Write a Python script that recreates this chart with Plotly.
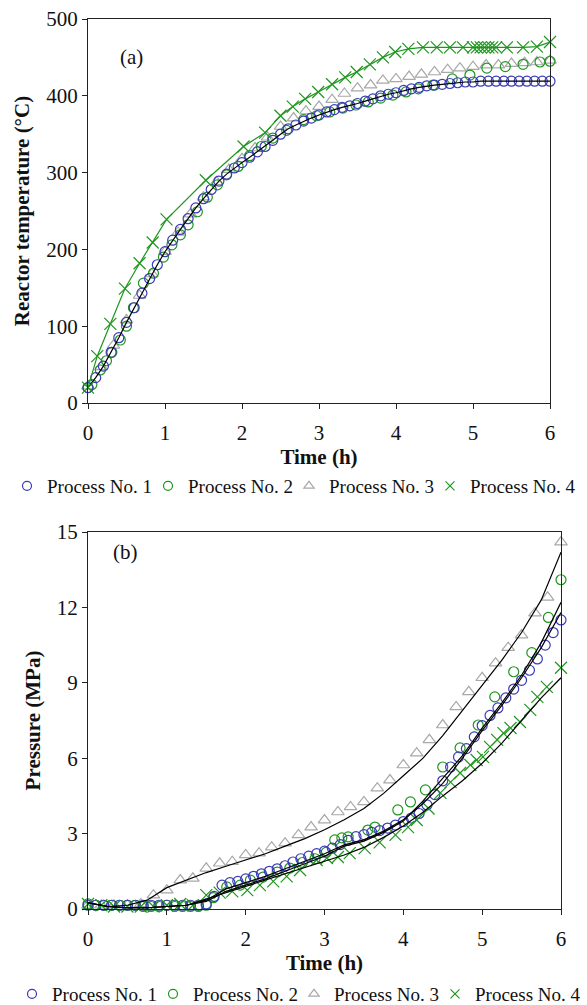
import plotly.graph_objects as go

# ---------------- Panel (a): reactor temperature (°C) ----------------
TIME_A1 = [0.0, 0.1, 0.2, 0.3, 0.4, 0.5, 0.6, 0.7, 0.8, 0.9, 1.0, 1.1, 1.2, 1.3, 1.4, 1.5,
           1.6, 1.7, 1.8, 1.9, 2.0, 2.1, 2.2, 2.3, 2.4, 2.5, 2.6, 2.7, 2.8, 2.9, 3.0, 3.1,
           3.2, 3.3, 3.4, 3.5, 3.6, 3.7, 3.8, 3.9, 4.0, 4.1, 4.2, 4.3, 4.4, 4.5, 4.6, 4.7,
           4.8, 4.9, 5.0, 5.1, 5.2, 5.3, 5.4, 5.5, 5.6, 5.7, 5.8, 5.9, 6.0]
TEMP_A1 = [20, 33, 48, 66, 85, 105, 124, 143, 162, 180, 197, 212, 226, 240, 254, 266,
           278, 289, 298, 306, 313, 320, 327, 334, 342, 350, 357, 362, 367, 371, 375, 379,
           382, 385, 387, 390, 393, 396, 400, 402, 404, 407, 409, 411, 413, 414, 415, 416,
           417, 418, 418, 419, 419, 419, 419, 419, 419, 419, 419, 419, 419]

TIME_A2 = [0.0, 0.05, 0.16, 0.24, 0.31, 0.42, 0.5, 0.59, 0.72, 0.85, 0.98, 1.09, 1.2, 1.3,
           1.42, 1.55, 1.68, 1.8, 1.95, 2.1, 2.25, 2.4, 2.58, 2.8, 2.97, 3.14, 3.31, 3.48,
           3.64, 3.8, 3.96, 4.13, 4.29, 4.48, 4.73, 4.96, 5.18, 5.42, 5.65, 5.87, 6.0]
TEMP_A2 = [20, 24, 43, 55, 66, 82, 100, 124, 156, 169, 190, 206, 219, 232,
           249, 268, 284, 297, 308, 322, 334, 345, 355, 369, 374, 379, 384, 388,
           392, 397, 401, 405, 409, 414, 422, 427, 436, 438, 441, 444, 445]

TIME_A3 = [0.0, 0.17, 0.33, 0.5, 0.67, 0.83, 1.0, 1.17, 1.33, 1.5, 1.67, 1.83, 2.0, 2.17,
           2.33, 2.5, 2.67, 2.83, 3.0, 3.17, 3.33, 3.5, 3.67, 3.83, 4.0, 4.17, 4.33, 4.5,
           4.67, 4.83, 5.0, 5.17, 5.33, 5.5, 5.67, 5.83, 6.0]
TEMP_A3 = [22, 47, 75, 108, 140, 168, 197, 222, 246, 268, 288, 304, 318, 332,
           346, 360, 371, 380, 386, 395, 403, 410, 414, 420, 422, 425, 428, 431,
           434, 436, 438, 440, 440, 442, 443, 444, 446]

TIME_A4 = [0.0, 0.12, 0.29, 0.48, 0.67, 0.84, 1.02, 1.53, 2.02, 2.3, 2.5, 2.66, 2.82, 2.99,
           3.17, 3.34, 3.49, 3.66, 3.83, 3.99, 4.16, 4.35, 4.53, 4.70, 4.87, 5.0, 5.05,
           5.1, 5.15, 5.2, 5.25, 5.3, 5.44, 5.65, 5.83, 6.0]
TEMP_A4 = [20, 61, 103, 149, 182, 209, 239, 290, 334, 352, 374, 386, 396, 405,
           415, 424, 431, 441, 450, 457, 461, 463, 463, 463, 463, 463, 463,
           463, 463, 463, 463, 463, 463, 463, 464, 470]

# ---------------- Panel (b): pressure (MPa) ----------------
TIME_B1 = TIME_A1
PRES_B1 = [0.15, 0.15, 0.15, 0.15, 0.15, 0.15, 0.15, 0.15, 0.15, 0.15, 0.15, 0.15, 0.15,
           0.15, 0.15, 0.2, 0.5, 0.95, 1.05, 1.1, 1.2, 1.3, 1.4, 1.5, 1.6, 1.72, 1.87, 2.0,
           2.1, 2.2, 2.3, 2.42, 2.56, 2.73, 2.88, 2.96, 3.05, 3.12, 3.22, 3.34, 3.48, 3.62,
           3.8, 4.14, 4.55, 5.1, 5.65, 6.05, 6.38, 6.85, 7.3, 7.7, 8.0, 8.4, 8.75, 9.1, 9.5,
           9.95, 10.5, 11.0, 11.5]

TIME_B2 = [0.0, 0.1, 0.2, 0.3, 0.4, 0.5, 0.6, 0.7, 0.8, 0.9, 1.0, 1.1, 1.2, 1.3, 1.4, 1.5,
           1.59, 1.76, 1.93, 2.06, 2.22, 2.4, 2.56, 2.72, 2.88, 3.02, 3.13, 3.22, 3.3, 3.55,
           3.64, 3.93, 4.09, 4.28, 4.5, 4.72, 4.95, 5.16, 5.4, 5.63, 5.84, 6.0]
PRES_B2 = [0.2, 0.15, 0.15, 0.15, 0.15, 0.15, 0.15, 0.1, 0.1, 0.1, 0.15, 0.1, 0.1, 0.1, 0.1,
           0.15, 0.45, 0.88, 0.95, 1.15, 1.27, 1.47, 1.63, 1.85, 2.0, 2.25, 2.75, 2.83, 2.87,
           3.14, 3.26, 3.94, 4.26, 4.74, 5.65, 6.41, 7.32, 8.44, 9.44, 10.2, 11.6, 13.1]

TIME_B3 = TIME_A3
PRES_B3 = [0.15, 0.15, 0.15, 0.15, 0.2, 0.55, 0.75, 1.15, 1.22, 1.62, 1.82, 1.88, 2.15,
           2.22, 2.46, 2.62, 2.95, 3.26, 3.54, 3.86, 4.06, 4.26, 4.81, 5.13, 5.73, 6.2,
           6.73, 7.32, 8.04, 8.64, 9.2, 9.78, 10.4, 10.9, 11.77, 12.4, 14.6]

TIME_B4 = [0.0, 0.17, 0.33, 0.5, 0.67, 0.83, 1.0, 1.17, 1.33, 1.5, 1.67, 1.83, 2.02, 2.18,
           2.35, 2.52, 2.69, 2.9, 3.03, 3.17, 3.32, 3.51, 3.7, 3.9, 4.06, 4.17, 4.32, 4.47,
           4.6, 4.72, 4.85, 4.93, 5.01, 5.1, 5.19, 5.27, 5.36, 5.48, 5.61, 5.7, 5.82, 6.0]
PRES_B4 = [0.2, 0.15, 0.1, 0.1, 0.1, 0.1, 0.15, 0.2, 0.15, 0.55, 0.65, 0.7, 0.75, 0.95,
           1.1, 1.3, 1.55, 1.95, 2.03, 2.07, 2.22, 2.42, 2.65, 2.95, 3.26, 3.54, 4.0, 4.62,
           5.05, 5.41, 5.73, 5.93, 6.05, 6.45, 6.73, 7.0, 7.2, 7.44, 7.92, 8.44, 8.84, 9.6]

# model (fitted) curves drawn as black lines in panel (b)
MODEL_T = [0.0, 0.25, 0.5, 0.75, 1.0, 1.25, 1.5, 1.75, 2.0, 2.25, 2.5, 2.75, 3.0, 3.25,
           3.5, 3.75, 4.0, 4.25, 4.5, 4.75, 5.0, 5.25, 5.5, 5.75, 6.0]
MODEL_B3 = [0.25, 0.1, 0.15, 0.35, 0.85, 1.15, 1.45, 1.7, 1.95, 2.2, 2.5, 2.8, 3.15, 3.55,
            4.0, 4.6, 5.3, 6.0, 6.9, 7.9, 8.9, 9.9, 11.0, 12.3, 14.2]
MODEL_B1 = [0.25, 0.1, 0.05, 0.05, 0.1, 0.15, 0.35, 0.8, 1.05, 1.3, 1.6, 1.9, 2.2, 2.55,
            2.75, 3.1, 3.55, 4.2, 5.0, 6.0, 7.1, 8.1, 9.2, 10.4, 11.8]
MODEL_B2 = [0.25, 0.1, 0.05, 0.05, 0.1, 0.15, 0.3, 0.7, 0.95, 1.2, 1.5, 1.8, 2.1, 2.5,
            2.7, 3.05, 3.5, 4.3, 5.2, 6.1, 7.2, 8.2, 9.3, 10.6, 12.2]
MODEL_B4 = [0.25, 0.1, 0.05, 0.05, 0.1, 0.15, 0.4, 0.65, 0.9, 1.15, 1.4, 1.65, 1.9, 2.15,
            2.45, 2.85, 3.3, 3.85, 4.5, 5.1, 5.8, 6.6, 7.5, 8.4, 9.2]

NAMES = ["Process No. 1", "Process No. 2", "Process No. 3", "Process No. 4"]
BLUE, GREEN, GREY = "#3b3bb8", "#1e961e", "#a8a8a8"
SYMS = ["circle-open", "circle-open", "triangle-up-open", "x-thin-open"]
COLS = [BLUE, GREEN, GREY, GREEN]

FONT = "Liberation Serif, Times New Roman, serif"
W, H = 587, 1005

fig = go.Figure()

def mk(col, sym, size=10):
    return dict(symbol=sym, size=size, color=col, line=dict(color=col, width=1.2))

# ---- panel (a) traces ----
fig.add_trace(go.Scatter(x=TIME_A3, y=TEMP_A3, mode="markers", marker=mk(GREY, SYMS[2], 11),
                         xaxis="x", yaxis="y", showlegend=False, cliponaxis=False))
fig.add_trace(go.Scatter(x=TIME_A2, y=TEMP_A2, mode="markers", marker=mk(GREEN, SYMS[1]),
                         xaxis="x", yaxis="y", showlegend=False, cliponaxis=False))
fig.add_trace(go.Scatter(x=TIME_A1, y=TEMP_A1, mode="markers", marker=mk(BLUE, SYMS[0]),
                         xaxis="x", yaxis="y", showlegend=False, cliponaxis=False))
fig.add_trace(go.Scatter(x=TIME_A1, y=TEMP_A1, mode="lines", line=dict(color="black", width=1.2),
                         xaxis="x", yaxis="y", showlegend=False))
fig.add_trace(go.Scatter(x=TIME_A4, y=TEMP_A4, mode="lines+markers", marker=mk(GREEN, SYMS[3], 12),
                         line=dict(color=GREEN, width=1.2),
                         xaxis="x", yaxis="y", showlegend=False, cliponaxis=False))

# ---- panel (b) traces ----
fig.add_trace(go.Scatter(x=TIME_B3, y=PRES_B3, mode="markers", marker=mk(GREY, SYMS[2], 11),
                         xaxis="x2", yaxis="y2", showlegend=False, cliponaxis=False))
fig.add_trace(go.Scatter(x=TIME_B2, y=PRES_B2, mode="markers", marker=mk(GREEN, SYMS[1]),
                         xaxis="x2", yaxis="y2", showlegend=False, cliponaxis=False))
fig.add_trace(go.Scatter(x=TIME_B1, y=PRES_B1, mode="markers", marker=mk(BLUE, SYMS[0]),
                         xaxis="x2", yaxis="y2", showlegend=False, cliponaxis=False))
fig.add_trace(go.Scatter(x=TIME_B4, y=PRES_B4, mode="markers", marker=mk(GREEN, SYMS[3], 12),
                         xaxis="x2", yaxis="y2", showlegend=False, cliponaxis=False))
for m in (MODEL_B3, MODEL_B1, MODEL_B2, MODEL_B4):
    fig.add_trace(go.Scatter(x=MODEL_T, y=m, mode="lines", line=dict(color="black", width=1.2),
                             xaxis="x2", yaxis="y2", showlegend=False))

# ---- legend entries (one legend under each panel) ----
for lg in ("legend", "legend2"):
    for name, sym, col in zip(NAMES, SYMS, COLS):
        fig.add_trace(go.Scatter(x=[None], y=[None], mode="markers", name=name,
                                 marker=mk(col, sym, 9), legend=lg,
                                 xaxis="x", yaxis="y", showlegend=True))

def px_x(p):
    return p / W

def px_y(p):
    return 1 - p / H

axis_common = dict(showline=True, linecolor="#222", linewidth=1.2, mirror=True,
                   showgrid=False, zeroline=False, ticks="outside", ticklen=5,
                   tickcolor="#222", tickwidth=1.2, automargin=False,
                   tickfont=dict(family=FONT, size=21, color="#111"))

legend_common = dict(orientation="h", xanchor="left", yanchor="middle",
                     font=dict(family=FONT, size=19, color="#111"), itemwidth=30,
                     entrywidth=104, entrywidthmode="pixels", indentation=-8,
                     bgcolor="rgba(0,0,0,0)", tracegroupgap=0)

fig.update_layout(
    width=W, height=H,
    margin=dict(l=0, r=0, t=0, b=0, autoexpand=False),
    paper_bgcolor="white", plot_bgcolor="white",
    font=dict(family=FONT, color="#111"),
    xaxis=dict(domain=[px_x(88), px_x(550)], anchor="y", range=[0, 6], dtick=1,
               title=dict(text="<b>Time (h)</b>", font=dict(family=FONT, size=21), standoff=0),
               ticklabelstandoff=6, **axis_common),
    yaxis=dict(domain=[px_y(403), px_y(19)], anchor="x", range=[0, 500], dtick=100,
               title=dict(text="<b>Reactor temperature (°C)</b>", font=dict(family=FONT, size=21),
                          standoff=10),
               **axis_common),
    xaxis2=dict(domain=[px_x(88), px_x(561)], anchor="y2", range=[0, 6], dtick=1,
                title=dict(text="<b>Time (h)</b>", font=dict(family=FONT, size=21), standoff=0),
                ticklabelstandoff=6, **axis_common),
    yaxis2=dict(domain=[px_y(909), px_y(532)], anchor="x2", range=[0, 15], dtick=3,
                title=dict(text="<b>Pressure (MPa)</b>", font=dict(family=FONT, size=21),
                           standoff=10),
                **axis_common),
    legend=dict(x=px_x(15), y=px_y(486), **legend_common),
    legend2=dict(x=px_x(20), y=px_y(994), **legend_common),
    annotations=[
        dict(text="(a)", x=px_x(118), y=px_y(43), xref="paper", yref="paper",
             showarrow=False, font=dict(family=FONT, size=21, color="#111")),
        dict(text="(b)", x=px_x(111), y=px_y(552), xref="paper", yref="paper",
             showarrow=False, font=dict(family=FONT, size=21, color="#111")),
    ],
)

fig.write_html("out.html", config={"displayModeBar": False},
               post_script="document.body.style.margin='0';document.body.style.overflow='hidden';")
